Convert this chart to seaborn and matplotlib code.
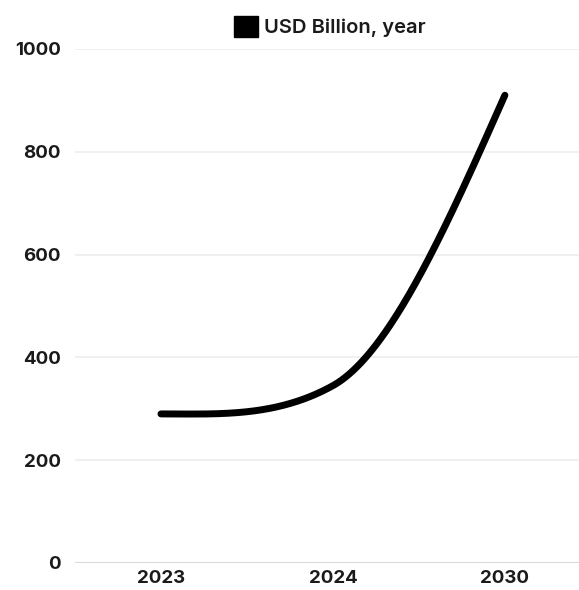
import numpy as np
import pandas as pd
import seaborn as sns
import matplotlib.pyplot as plt
from matplotlib.patches import Patch

# market size, USD billion
years = ["2023", "2024", "2030"]
values = [290, 345, 910]
series_label = "USD Billion, year"
y_ticks = [0, 200, 400, 600, 800, 1000]


def smooth_curve(y, tension=0.6, n=200):
    # cubic hermite through the points (x = category index), used only to draw the line
    y = np.asarray(y, dtype=float)
    d = np.diff(y)
    m = np.zeros_like(y)
    m[1:-1] = tension * (d[:-1] + d[1:]) / 2
    m[0] = max((3 * d[0] - m[1]) / 2, 0)
    m[-1] = max((3 * d[-1] - m[-2]) / 2, 0)
    xs, ys = [], []
    for i in range(len(y) - 1):
        t = np.linspace(0, 1, n)
        h00 = 2 * t**3 - 3 * t**2 + 1
        h10 = t**3 - 2 * t**2 + t
        h01 = -2 * t**3 + 3 * t**2
        h11 = t**3 - t**2
        xs.append(i + t)
        ys.append(h00 * y[i] + h10 * m[i] + h01 * y[i + 1] + h11 * m[i + 1])
    return np.concatenate(xs), np.concatenate(ys)


sns.set_theme(style="white")
plt.rcParams['font.family'] = ['Inter', 'DejaVu Sans']

fig = plt.figure(figsize=(5.79, 5.90), dpi=100)
ax = fig.add_axes([0.1295, 0.0458, 0.891, 0.8712])

cx, cy = smooth_curve(values)
curve = pd.DataFrame({"x": cx, "y": cy})
sns.lineplot(data=curve, x="x", y="y", sort=False, estimator=None,
             color="black", linewidth=5, ax=ax, solid_capstyle="round")

ax.set_xlim(-0.5, len(years) - 0.5)
ax.set_ylim(0, 1000)
ax.set_xticks(range(len(years)))
ax.set_xticklabels(years)
ax.set_yticks(y_ticks)
ax.set_xlabel("")
ax.set_ylabel("")

for v in y_ticks[1:]:
    ax.axhline(v, color="#eeeeee", linewidth=1.2, zorder=0)
ax.axhline(0, color="#d9d9d9", linewidth=1.5, zorder=0)

sns.despine(ax=ax, left=True, bottom=True)
ax.tick_params(axis="y", length=0, pad=10, labelsize=13.5)
ax.tick_params(axis="x", length=0, pad=5, labelsize=13.5)
for lab in ax.get_xticklabels() + ax.get_yticklabels():
    lab.set_fontweight("bold")
    lab.set_color("#1a1a1a")

handle = Patch(facecolor="black", edgecolor="black", label=series_label)
leg = fig.legend(handles=[handle], loc="center", bbox_to_anchor=(0.57, 0.955),
                 frameon=False, handlelength=1.2, handleheight=1.2,
                 handletextpad=0.3, prop={"size": 14.5, "weight": "semibold"})
for t in leg.get_texts():
    t.set_color("#1a1a1a")

plt.savefig("out.png", dpi=100)
plt.close()
